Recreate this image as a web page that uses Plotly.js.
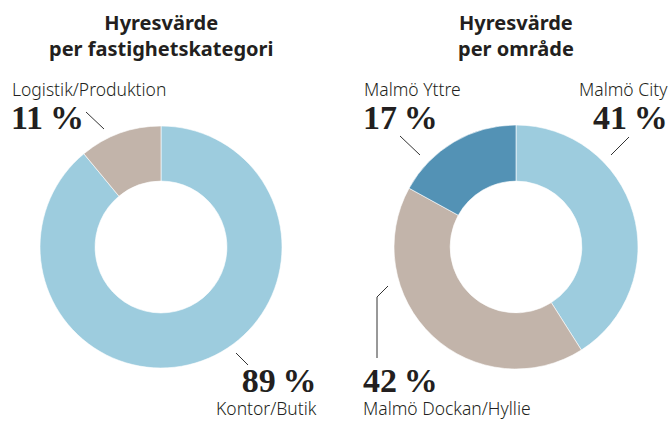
<!DOCTYPE html>
<html>
<head>
<meta charset="utf-8">
<script src="https://cdn.plot.ly/plotly-3.0.1.min.js"></script>
<style>html,body{margin:0;padding:0;background:#fff;}#chart{width:672px;height:421px;}</style>
</head>
<body>
<div id="chart"></div>
<script>
// ---- data ----
const categoryLabels = ["Kontor/Butik", "Logistik/Produktion"];
const categoryValues = [89, 11];
const areaLabels = ["Malmö City", "Malmö Dockan/Hyllie", "Malmö Yttre"];
const areaValues = [41, 42, 17];
const titleLeft = "Hyresvärde<br>per fastighetskategori";
const titleRight = "Hyresvärde<br>per område";

// ---- styles ----
const W = 672, H = 421;
const cLight = "#9DCCDE", cBeige = "#C2B4AA", cDark = "#5392B5";
const ink = "#231F20";
const sans = "'Noto Sans', 'Open Sans', sans-serif";
const serif = "'Liberation Serif', 'DejaVu Serif', serif";
const px = x => x / W, py = y => 1 - y / H;

const traces = [
  {
    type: "pie", labels: categoryLabels, values: categoryValues,
    hole: 0.545, sort: false, direction: "clockwise", rotation: 0,
    textinfo: "none", hoverinfo: "label+percent",
    marker: {colors: [cLight, cBeige], line: {color: "#ffffff", width: 0.6}},
    domain: {x: [px(40), px(282)], y: [py(368), py(126)]}
  },
  {
    type: "pie", labels: areaLabels, values: areaValues,
    hole: 0.54, sort: false, direction: "clockwise", rotation: 0,
    textinfo: "none", hoverinfo: "label+percent",
    marker: {colors: [cLight, cBeige, cDark], line: {color: "#ffffff", width: 0.6}},
    domain: {x: [px(394), px(638)], y: [py(369), py(125)]}
  }
];

const pct = v => v + "\u2009%";
const bigPct = v => `<span style="font-family:'Liberation Serif',serif;font-size:34px;"><b>${pct(v)}</b></span>`;
function lab(text, x, y, xanchor, font, yanchor, align) {
  return {text, x: px(x), y: py(y), xref: "paper", yref: "paper",
          xanchor, yanchor: yanchor || "middle", align: align || xanchor,
          showarrow: false, font, borderpad: 0};
}
const fLabel = {family: sans, size: 17.5, color: ink, weight: 300};
const fPct = {family: serif, size: 34, color: ink, weight: 700};
const fTitle = {family: sans, size: 20, color: ink, weight: 700};

const annotations = [
  lab(titleLeft, 161, 36, "center", fTitle),
  lab(titleRight, 516, 36, "center", fTitle),
  lab(categoryLabels[1], 11, 89, "left", fLabel),
  lab(pct(categoryValues[1]), 10, 117, "left", fPct),
  lab(bigPct(categoryValues[0]) + "<br>" + categoryLabels[0], 318, 420.5, "right", fLabel, "bottom", "right"),
  lab(areaLabels[2], 363, 89, "left", fLabel),
  lab(pct(areaValues[2]), 362, 117, "left", fPct),
  lab(areaLabels[0], 669, 89, "right", fLabel),
  lab(pct(areaValues[0]), 669, 117, "right", fPct),
  lab(bigPct(areaValues[1]) + "<br>" + areaLabels[1], 362, 420.5, "left", fLabel, "bottom", "left")
];

const ln = {color: "#333333", width: 1};
function seg(x0, y0, x1, y1) {
  return {type: "line", xref: "paper", yref: "paper",
          x0: px(x0), y0: py(y0), x1: px(x1), y1: py(y1), line: ln};
}
const shapes = [
  seg(86, 112, 104, 129),
  seg(236, 353, 248, 365),
  seg(400, 136, 420, 155),
  seg(629, 137, 611, 155),
  {type: "path", xref: "paper", yref: "paper",
   path: `M ${px(388)},${py(286)} L ${px(377)},${py(297)} L ${px(377)},${py(358)}`,
   line: ln}
];

Plotly.newPlot("chart", traces, {
  width: W, height: H, margin: {l: 0, r: 0, t: 0, b: 0},
  paper_bgcolor: "#ffffff", plot_bgcolor: "#ffffff",
  showlegend: false, annotations, shapes
}, {displayModeBar: false, staticPlot: true});
</script>
</body>
</html>
